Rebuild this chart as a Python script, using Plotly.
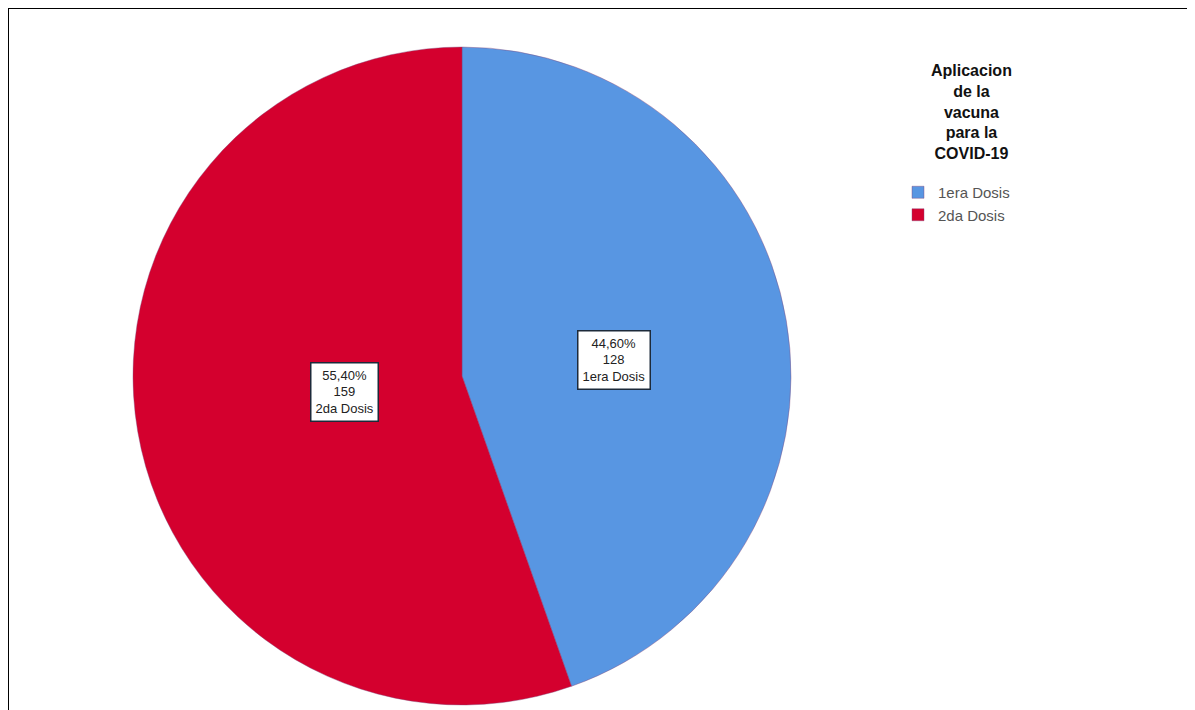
import math
import plotly.graph_objects as go

labels = ["1era Dosis", "2da Dosis"]
counts = [128, 159]
percent_text = ["44,60%", "55,40%"]
colors = ["#5896E2", "#D4002E"]
legend_title = "Aplicacion<br>de la<br>vacuna<br>para la<br>COVID-19"

# the page body adds an 8px offset; the figure is sized to fit the window
OFF = 8
W, H = 1195 - OFF, 710 - OFF


def px(x):
    return (x - OFF) / W


def py(y):
    return 1 - (y - OFF) / H


dom_x = [px(133), px(791)]
dom_y = [py(705), py(47)]

fig = go.Figure(go.Pie(
    labels=labels,
    values=counts,
    sort=False,
    direction="clockwise",
    rotation=0,
    marker=dict(colors=colors, line=dict(color="rgba(130,70,120,0.7)", width=0.6)),
    textinfo="none",
    hoverinfo="label+value+percent",
    domain=dict(x=dom_x, y=dom_y),
))

# label boxes placed at each slice's mid-angle (derived from data)
cx = (dom_x[0] + dom_x[1]) / 2
cy = (dom_y[0] + dom_y[1]) / 2
rx = (dom_x[1] - dom_x[0]) / 2
ry = (dom_y[1] - dom_y[0]) / 2
total = sum(counts)
cum = 0
annotations = []
for lab, c, p in zip(labels, counts, percent_text):
    mid = (cum + c / 2) / total * 2 * math.pi
    cum += c
    f = 0.47
    ax = cx + f * rx * math.sin(mid)
    ay = cy + f * ry * math.cos(mid) * 0.6
    annotations.append(dict(
        x=ax, y=ay, xref="paper", yref="paper",
        text=f"{p}<br>{c}<br>{lab}", showarrow=False,
        font=dict(family="Arial, Liberation Sans, sans-serif", size=13, color="#222"),
        bgcolor="white", bordercolor="#1d2a3a", borderwidth=1.5, borderpad=4,
        align="center",
    ))

annotations.append(dict(
    x=px(971), y=py(60), xref="paper", yref="paper", xanchor="center", yanchor="top",
    text="<b>" + legend_title + "</b>", showarrow=False, align="center",
    font=dict(family="Arial, Liberation Sans, sans-serif", size=16, color="#111"),
))

fig.update_layout(
    width=W, height=H,
    margin=dict(l=0, r=0, t=0, b=0),
    paper_bgcolor="white",
    plot_bgcolor="white",
    showlegend=True,
    legend=dict(
        x=px(898), y=py(176), xanchor="left", yanchor="top",
        font=dict(family="Arial, Liberation Sans, sans-serif", size=15, color="#555"),
        itemwidth=30, tracegroupgap=0,
        bgcolor="rgba(0,0,0,0)",
    ),
    annotations=annotations,
    shapes=[
        dict(type="line", xref="paper", yref="paper", x0=0, x1=1, y0=py(8), y1=py(8),
             line=dict(color="black", width=2)),
        dict(type="line", xref="paper", yref="paper", x0=0, x1=0, y0=0, y1=py(8),
             line=dict(color="black", width=2)),
    ],
)

fig.write_html("out.html")
